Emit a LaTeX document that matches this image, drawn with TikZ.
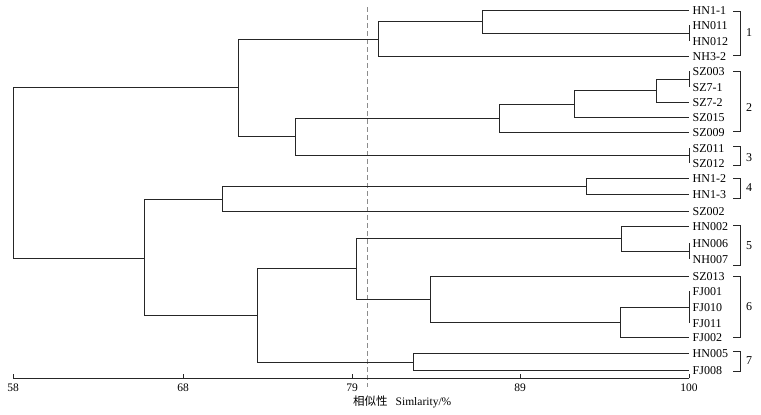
\documentclass[tikz,border=0pt]{standalone}
\usepackage{fontspec}
\setmainfont{Liberation Serif}
\newfontfamily\cjkfont{Noto Sans CJK SC}
\begin{document}
\begin{tikzpicture}[x=1pt,y=-1pt,
  br/.style={draw=black!85, line width=0.8pt},
  leaf/.style={anchor=west, inner sep=0pt, font=\fontsize{12}{14}\selectfont, yshift=-1pt},
  num/.style={inner sep=0pt, font=\fontsize{12}{14}\selectfont},
  ticklab/.style={inner sep=0pt, font=\fontsize{11.5}{13}\selectfont},
  cut/.style={draw=black!45, line width=0.7pt, dash pattern=on 5pt off 3pt}]
\useasboundingbox[fill=white] (0,0) rectangle (761,415);

% leaves
\foreach \n/\y/\t in {0/10/HN1-1, 1/25/HN011, 2/41/HN012, 3/56/NH3-2,
  4/71/SZ003, 5/87/SZ7-1, 6/102/SZ7-2, 7/117/SZ015, 8/132/SZ009,
  9/148/SZ011, 10/163/SZ012, 11/178/HN1-2, 12/194/HN1-3, 13/211/SZ002,
  14/226/HN002, 15/243/HN006, 16/259/NH007, 17/276/SZ013, 18/291/FJ001,
  19/307/FJ010, 20/323/FJ011, 21/337/FJ002, 22/353/HN005, 23/370/FJ008}{
  \coordinate (L\n) at (689,\y);
  \node[leaf] (T\n) at (692.5,\y) {\t};
}

% internal nodes
\coordinate (a1) at (689,33);
\coordinate (a2) at (482,21.5);
\coordinate (C1) at (378,39);
\coordinate (b1) at (689,79);
\coordinate (b2) at (656,90.5);
\coordinate (b3) at (574,104);
\coordinate (C2) at (499,118);
\coordinate (c1) at (689,155.5);
\coordinate (d1) at (295,136);
\coordinate (top) at (238,87);
\coordinate (e1) at (586,186);
\coordinate (e2) at (222,199);
\coordinate (f1) at (689,251);
\coordinate (f2) at (621,238.5);
\coordinate (g1) at (689,307);
\coordinate (g2) at (620,322);
\coordinate (g3) at (430,299);
\coordinate (h1) at (356,268);
\coordinate (i1) at (413,362);
\coordinate (j1) at (257,315);
\coordinate (k1) at (144,258);
\coordinate (root) at (13,172);

% dashed cut line
\coordinate (D1) at (367,7);
\coordinate (D2) at (367,387);
\draw[cut] (D1) -- (D2);

% dendrogram branches
\draw[br] (a1) |- (L1); \draw[br] (a1) |- (L2);
\draw[br] (a2) |- (L0); \draw[br] (a2) |- (a1);
\draw[br] (C1) |- (a2); \draw[br] (C1) |- (L3);
\draw[br] (b1) |- (L4); \draw[br] (b1) |- (L5);
\draw[br] (b2) |- (b1); \draw[br] (b2) |- (L6);
\draw[br] (b3) |- (b2); \draw[br] (b3) |- (L7);
\draw[br] (C2) |- (b3); \draw[br] (C2) |- (L8);
\draw[br] (c1) |- (L9); \draw[br] (c1) |- (L10);
\draw[br] (d1) |- (C2); \draw[br] (d1) |- (c1);
\draw[br] (top) |- (C1); \draw[br] (top) |- (d1);
\draw[br] (e1) |- (L11); \draw[br] (e1) |- (L12);
\draw[br] (e2) |- (e1); \draw[br] (e2) |- (L13);
\draw[br] (f1) |- (L15); \draw[br] (f1) |- (L16);
\draw[br] (f2) |- (L14); \draw[br] (f2) |- (f1);
\draw[br] (g1) |- (L18); \draw[br] (g1) |- (L20);
\draw[br] (g2) |- (g1); \draw[br] (g2) |- (L21);
\draw[br] (g3) |- (L17); \draw[br] (g3) |- (g2);
\draw[br] (h1) |- (f2); \draw[br] (h1) |- (g3);
\draw[br] (i1) |- (L22); \draw[br] (i1) |- (L23);
\draw[br] (j1) |- (h1); \draw[br] (j1) |- (i1);
\draw[br] (k1) |- (e2); \draw[br] (k1) |- (j1);
\draw[br] (root) |- (top); \draw[br] (root) |- (k1);

% group brackets
\foreach \g/\a/\b/\m in {1/11/55/33, 2/71/131/108, 3/146/165/158, 4/178/198/188,
  5/225/265/246, 6/276/337/307, 7/351/371/361}{
  \draw[br] (733,\a) -- (740,\a) -- (740,\b) -- (733,\b);
  \node[num] (G\g) at (749,\m) {\g};
}

% axis
\coordinate (A0) at (13,378);
\coordinate (A1) at (183,378);
\coordinate (A2) at (352,378);
\coordinate (A3) at (520,378);
\coordinate (A4) at (689,378);
\draw[br] (A0) -- (A4);
\foreach \i/\v in {0/58, 1/68, 2/79, 3/89, 4/100}{
  \draw[br] (A\i) -- ++(0,-4);
  \node[ticklab] (X\i) at ([yshift=-10pt]A\i) {\v};
}
\node[anchor=west, inner sep=0pt, font=\fontsize{11.5}{13}\selectfont] (title) at (353,402)
  {{\cjkfont 相似性}\hspace{8pt}Simlarity/\%};
\end{tikzpicture}
\end{document}
